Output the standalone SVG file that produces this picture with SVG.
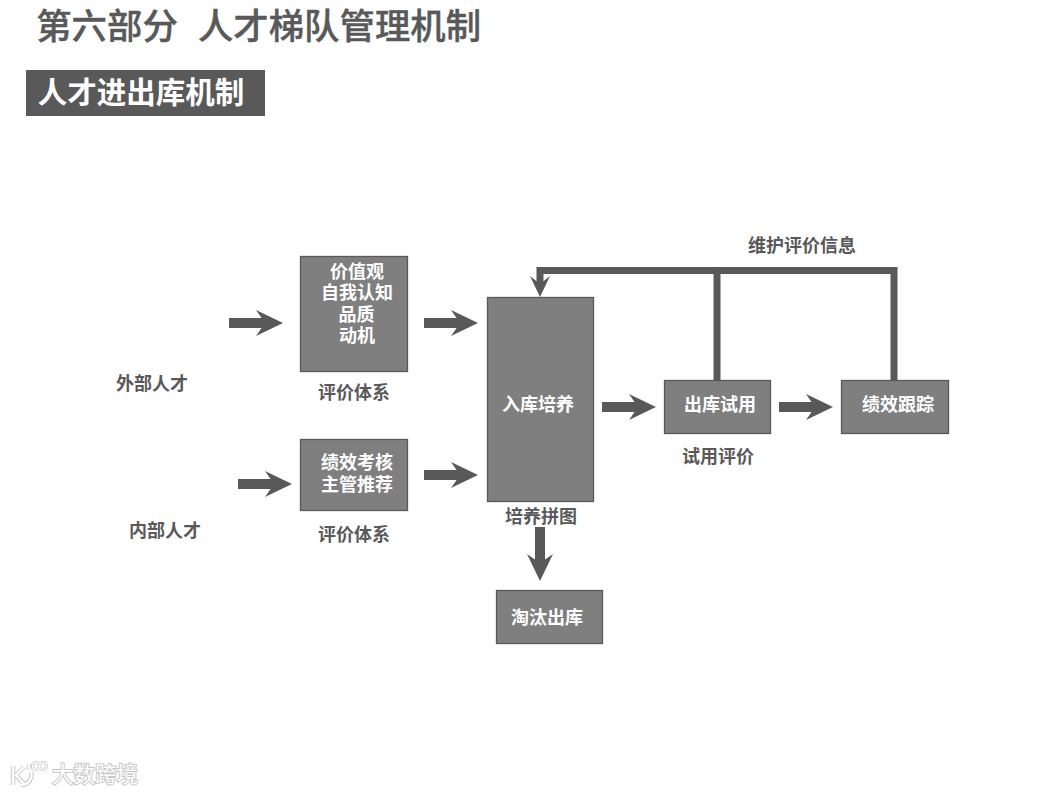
<svg xmlns="http://www.w3.org/2000/svg" width="1058" height="794" viewBox="0 0 1058 794">
<style>
text{font-family:"Noto Sans CJK SC","Noto Sans",sans-serif;font-weight:700;text-anchor:middle}
.box{fill:#7f7f7f;stroke:#595959;stroke-width:1.3}
.in{fill:#fff;font-size:18px}
.lb{fill:#595959;font-size:18px}
.big{stroke:#595959;stroke-width:10;fill:none}
.fb{stroke:#595959;stroke-width:7;fill:none}
.wm{fill:#fff;stroke:#c8c8c8;stroke-width:2;paint-order:stroke;font-size:21.500px;font-weight:400}
.tt{fill:#595959;font-size:35.400px;font-weight:500;stroke:#595959;stroke-width:.4}
.lo{fill:none;stroke:#c8c8c8;stroke-width:4.500}
.li{fill:none;stroke:#fff;stroke-width:2.500}
</style>
<defs>
<marker id="ah" markerUnits="userSpaceOnUse" markerWidth="27" markerHeight="26" viewBox="0 0 27 26" refX="10" refY="13" orient="auto"><path d="M0 0L27 13L0 26L9 13Z" fill="#595959"/></marker>
<marker id="ahs" markerUnits="userSpaceOnUse" markerWidth="21" markerHeight="22" viewBox="0 0 21 22" refX="9" refY="11" orient="auto"><path d="M0 1L21 11L0 21L8 11Z" fill="#595959"/></marker>
</defs>
<g id="title">
<text class="tt" x="107" y="38.500">第六部分</text>
<text class="tt" x="339.500" y="38.500">人才梯队管理机制</text>
</g>
<g id="section">
<rect x="26" y="70" width="239" height="46" fill="#595959"/>
<text x="141" y="103" style="font-size:29.500px" fill="#fff">人才进出库机制</text>
</g>
<g id="connectors">
<path class="big" d="M229 323H266" marker-end="url(#ah)"/>
<path class="big" d="M424 323H461" marker-end="url(#ah)"/>
<path class="big" d="M238 484H275" marker-end="url(#ah)"/>
<path class="big" d="M424 475H461" marker-end="url(#ah)"/>
<path class="big" d="M602 407H639" marker-end="url(#ah)"/>
<path class="big" d="M779 407H816" marker-end="url(#ah)"/>
<path class="big" d="M540 527V564" marker-end="url(#ah)"/>
<path class="fb" d="M894 380V270.500H540V285" marker-end="url(#ahs)"/>
<path class="fb" d="M717 380V270.500"/>
</g>
<g id="external"><text class="lb" x="152" y="390">外部人才</text></g>
<g id="internal"><text class="lb" x="165" y="537">内部人才</text></g>
<g id="values">
<rect class="box" x="300.500" y="256.500" width="107" height="115"/>
<text class="in" x="357" y="277.500">价值观</text>
<text class="in" x="357" y="298.500">自我认知</text>
<text class="in" x="356.500" y="320.500">品质</text>
<text class="in" x="357" y="341.500">动机</text>
</g>
<g id="eval1"><text class="lb" x="354" y="399">评价体系</text></g>
<g id="performance">
<rect class="box" x="300.500" y="439.500" width="107" height="71"/>
<text class="in" x="357" y="468.500">绩效考核</text>
<text class="in" x="357" y="490.500">主管推荐</text>
</g>
<g id="eval2"><text class="lb" x="354" y="541">评价体系</text></g>
<g id="training">
<rect class="box" x="487.500" y="297.500" width="106" height="204"/>
<text class="in" x="538" y="411">入库培养</text>
</g>
<g id="puzzle"><text class="lb" x="541" y="523">培养拼图</text></g>
<g id="weedout">
<rect class="box" x="496.500" y="590.500" width="106" height="53"/>
<text class="in" x="547" y="624">淘汰出库</text>
</g>
<g id="trial">
<rect class="box" x="664.500" y="380.500" width="106" height="53"/>
<text class="in" x="720" y="411">出库试用</text>
</g>
<g id="trialeval"><text class="lb" x="718" y="463">试用评价</text></g>
<g id="tracking">
<rect class="box" x="841.500" y="380.500" width="107" height="53"/>
<text class="in" x="898" y="411">绩效跟踪</text>
</g>
<g id="maintain"><text class="lb" x="802" y="252">维护评价信息</text></g>
<g id="watermark">
<path class="lo" d="M13 766V785M24 767L16 775L24 784M21 785A10 10 0 0 0 31 772"/>
<path class="li" d="M13 766V785M24 767L16 775L24 784M21 785A10 10 0 0 0 31 772"/>
<path d="M29 764V770" class="lo"/><path d="M29 764V770" class="li"/>
<circle cx="36" cy="766" r="3.500" fill="none" stroke="#c8c8c8" stroke-width="3"/>
<circle cx="43" cy="766" r="3.500" fill="none" stroke="#c8c8c8" stroke-width="3"/>
<circle cx="36" cy="766" r="3.500" fill="none" stroke="#fff" stroke-width="1.500"/>
<circle cx="43" cy="766" r="3.500" fill="none" stroke="#fff" stroke-width="1.500"/>
<text class="wm" x="95" y="782">大数跨境</text>
</g>
</svg>
